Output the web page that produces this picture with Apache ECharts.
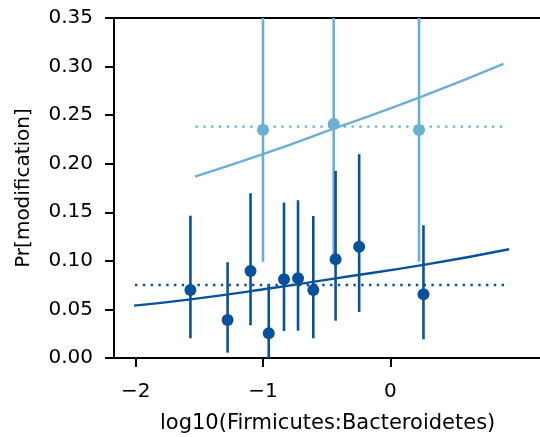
<!DOCTYPE html>
<html><head><meta charset="utf-8">
<script src="https://cdn.jsdelivr.net/npm/echarts@6/dist/echarts.min.js"></script>
<style>html,body{margin:0;padding:0;background:#fff}#c{width:540px;height:437px}</style>
</head><body><div id="c"></div>
<script>
// Dark series: [x, y, lower, upper]
const darkX = [-1.57, -1.278, -1.098, -0.955, -0.835, -0.725, -0.605, -0.43, -0.245, 0.26];
const darkY = [0.070, 0.039, 0.0896, 0.0254, 0.081, 0.082, 0.070, 0.1016, 0.1146, 0.0656];
const darkLo = [0.0203, 0.0055, 0.0337, 0.0, 0.0278, 0.0281, 0.0203, 0.0384, 0.0474, 0.0193];
const darkHi = [0.1465, 0.0986, 0.1696, 0.0759, 0.160, 0.1624, 0.1462, 0.1926, 0.2098, 0.1366];
const darkMean = 0.0752;
const darkMeanRange = [-2.005, 0.895];
const darkFitX = [-2.013, -1.57, -0.955, -0.43, 0.26, 0.933];
const darkFitY = [0.0539, 0.0604, 0.0715, 0.082, 0.0958, 0.112];

const lightX = [-1.0, -0.445, 0.225];
const lightY = [0.2348, 0.241, 0.2348];
const lightLo = [0.0992, 0.103, 0.099];
const lightHi = [0.5, 0.5, 0.5];
const lightMean = 0.2382;
const lightMeanRange = [-1.53, 0.888];
const lightFitX = [-1.535, -1.0, -0.445, 0.225, 0.888];
const lightFitY = [0.1867, 0.2098, 0.236, 0.268, 0.3028];

const yTicks = [0, 0.05, 0.1, 0.15, 0.2, 0.25, 0.3, 0.35];
const xTicks = [-2, -1, 0];

const DARK = '#08519c', LIGHT = '#6baed6';
const FONT = 'DejaVu Sans';

function zip(a, b) { return a.map((v, i) => [v, b[i]]); }
function errData(x, lo, hi) { return x.map((v, i) => [v, lo[i], hi[i]]); }
function errSeries(data, color, z) {
  return {
    type: 'custom', z: z, clip: true,
    renderItem: function (params, api) {
      const p1 = api.coord([api.value(0), api.value(1)]);
      const p2 = api.coord([api.value(0), api.value(2)]);
      return { type: 'line', shape: { x1: p1[0], y1: p1[1], x2: p2[0], y2: p2[1] },
        style: { stroke: color, lineWidth: 2.6 } };
    },
    encode: { x: 0, y: [1, 2] },
    data: data
  };
}

const chart = echarts.init(document.getElementById('c'), null, { renderer: 'canvas' });
chart.setOption({
  animation: false,
  grid: { left: 114, top: 18, bottom: 79, right: -20 },
  xAxis: [{
    type: 'value', min: -2.17, max: 1.175, interval: 1,
    axisLine: { show: true, onZero: false, lineStyle: { color: '#000', width: 2 } },
    axisTick: { show: true, length: 9, lineStyle: { color: '#000', width: 2 },
      customValues: xTicks },
    axisLabel: { color: '#000', fontSize: 20, fontFamily: FONT, margin: 24,
      customValues: xTicks, formatter: v => (v < 0 ? '\u2212' + Math.abs(v) : '' + v) },
    splitLine: { show: false }
  }, {
    type: 'value', position: 'top', min: -2.17, max: 1.175,
    axisLine: { show: true, onZero: false, lineStyle: { color: '#000', width: 2 } },
    axisTick: { show: false }, axisLabel: { show: false }, splitLine: { show: false }
  }],
  yAxis: {
    type: 'value', min: 0, max: 0.35, interval: 0.05,
    axisLine: { show: true, onZero: false, lineStyle: { color: '#000', width: 2 } },
    axisTick: { show: true, length: 9, lineStyle: { color: '#000', width: 2 } },
    axisLabel: { color: '#000', fontSize: 20, fontFamily: FONT, margin: 21,
      formatter: v => v.toFixed(2) },
    splitLine: { show: false },
    name: 'Pr[modification]', nameLocation: 'middle', nameGap: 80,
    nameTextStyle: { color: '#000', fontSize: 20, fontFamily: FONT }
  },
  graphic: [{
    type: 'text', left: 160, top: 413,
    style: { text: 'log10(Firmicutes:Bacteroidetes)', fill: '#000', font: '21px "DejaVu Sans"' }
  }],
  series: [
    errSeries(errData(lightX, lightLo, lightHi), LIGHT, 2),
    { type: 'scatter', data: zip(lightX, lightY), symbolSize: 12, itemStyle: { color: LIGHT, opacity: 1 }, z: 3 },
    { type: 'line', data: [[lightMeanRange[0], lightMean], [lightMeanRange[1], lightMean]], symbol: 'none',
      lineStyle: { color: LIGHT, width: 2.4, type: [2.4, 5.4] }, z: 2 },
    { type: 'line', data: zip(lightFitX, lightFitY), symbol: 'none', smooth: true,
      lineStyle: { color: LIGHT, width: 2.4 }, z: 2 },
    errSeries(errData(darkX, darkLo, darkHi), DARK, 4),
    { type: 'scatter', data: zip(darkX, darkY), symbolSize: 12, itemStyle: { color: DARK, opacity: 1 }, z: 5 },
    { type: 'line', data: [[darkMeanRange[0], darkMean], [darkMeanRange[1], darkMean]], symbol: 'none',
      lineStyle: { color: DARK, width: 2.4, type: [2.4, 5.4] }, z: 4 },
    { type: 'line', data: zip(darkFitX, darkFitY), symbol: 'none', smooth: true,
      lineStyle: { color: DARK, width: 2.4 }, z: 4 }
  ]
});
</script></body></html>
